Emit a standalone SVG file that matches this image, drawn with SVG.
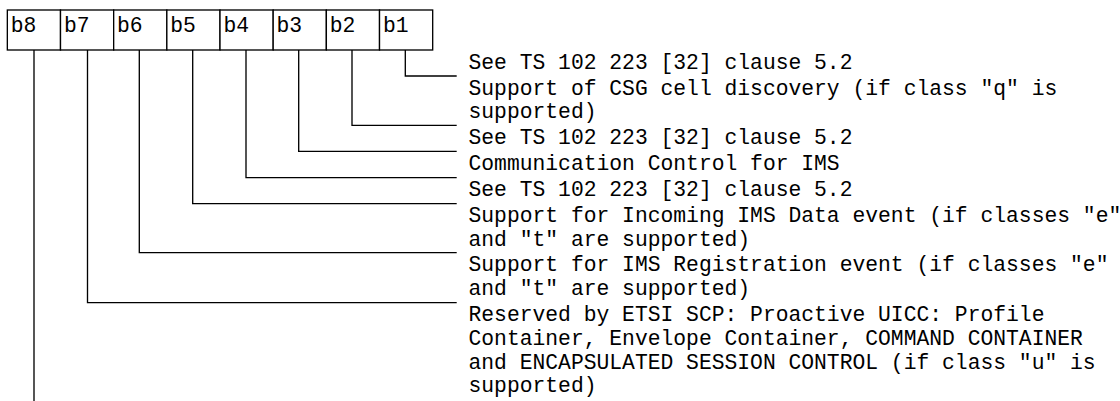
<svg xmlns="http://www.w3.org/2000/svg" width="1120" height="401" viewBox="0 0 1120 401">
<style>
.cell{fill:#fff;stroke:#000;stroke-width:1.33}
.t{font-family:"Liberation Mono","Courier New",monospace;font-size:21.33px;fill:#000}
.c{fill:none;stroke:#000;stroke-width:1.33}
</style>
<rect width="1120" height="401" fill="#fff"/>
<g id="bits">
<g id="b8"><rect class="cell" x="7.33" y="10" width="53.17" height="40"/><text class="t" x="10.7" y="31.5">b8</text></g>
<g id="b7"><rect class="cell" x="60.5" y="10" width="53.17" height="40"/><text class="t" x="63.9" y="31.5">b7</text></g>
<g id="b6"><rect class="cell" x="113.67" y="10" width="53.17" height="40"/><text class="t" x="117" y="31.5">b6</text></g>
<g id="b5"><rect class="cell" x="166.84" y="10" width="53.17" height="40"/><text class="t" x="170.2" y="31.5">b5</text></g>
<g id="b4"><rect class="cell" x="220.01" y="10" width="53.17" height="40"/><text class="t" x="223.4" y="31.5">b4</text></g>
<g id="b3"><rect class="cell" x="273.18" y="10" width="53.17" height="40"/><text class="t" x="276.5" y="31.5">b3</text></g>
<g id="b2"><rect class="cell" x="326.35" y="10" width="53.17" height="40"/><text class="t" x="329.7" y="31.5">b2</text></g>
<g id="b1"><rect class="cell" x="379.52" y="10" width="53.17" height="40"/><text class="t" x="382.9" y="31.5">b1</text></g>
</g>
<g id="connectors">
<polyline class="c" points="405.3,50 405.3,76 456.7,76"/>
<polyline class="c" points="352,50 352,125.3 456.7,125.3"/>
<polyline class="c" points="298.7,50 298.7,151.3 456.7,151.3"/>
<polyline class="c" points="246,50 246,177.7 456.7,177.7"/>
<polyline class="c" points="192.7,50 192.7,203.7 456.7,203.7"/>
<polyline class="c" points="139.3,50 139.3,252.7 456.7,252.7"/>
<polyline class="c" points="87.5,50 87.5,302.7 456.7,302.7"/>
<polyline class="c" points="34,50 34,401"/>
</g>
<g id="desc-b1"><text class="t" x="468.5" y="68.5">See TS 102 223 [32] clause 5.2</text></g>
<g id="desc-b2"><text class="t" x="468.5" y="94.5">Support of CSG cell discovery (if class "q" is</text><text class="t" x="468.5" y="118.2">supported)</text></g>
<g id="desc-b3"><text class="t" x="468.5" y="143.8">See TS 102 223 [32] clause 5.2</text></g>
<g id="desc-b4"><text class="t" x="468.5" y="169.8">Communication Control for IMS</text></g>
<g id="desc-b5"><text class="t" x="468.5" y="196.2">See TS 102 223 [32] clause 5.2</text></g>
<g id="desc-b6"><text class="t" x="468.5" y="222.2">Support for Incoming IMS Data event (if classes "e"</text><text class="t" x="468.5" y="245.9">and "t" are supported)</text></g>
<g id="desc-b7"><text class="t" x="468.5" y="271.2">Support for IMS Registration event (if classes "e"</text><text class="t" x="468.5" y="294.9">and "t" are supported)</text></g>
<g id="desc-b8"><text class="t" x="468.5" y="321.2">Reserved by ETSI SCP: Proactive UICC: Profile</text><text class="t" x="468.5" y="344.9">Container, Envelope Container, COMMAND CONTAINER</text><text class="t" x="468.5" y="368.6">and ENCAPSULATED SESSION CONTROL (if class "u" is</text><text class="t" x="468.5" y="392.3">supported)</text></g>
</svg>
